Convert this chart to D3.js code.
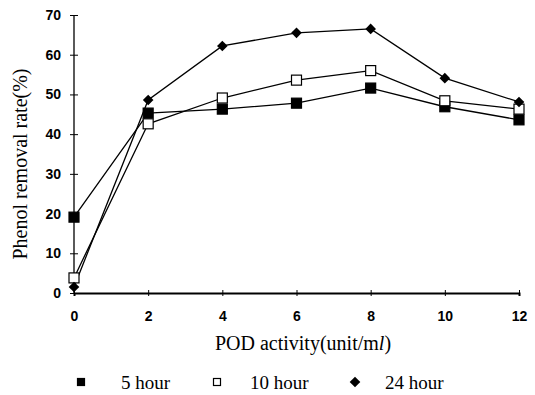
<!DOCTYPE html>
<html>
<head>
<meta charset="utf-8">
<script src="https://cdn.jsdelivr.net/npm/d3@7"></script>
<style>
  body { margin: 0; background: #fff; }
  .tick text { font-family: "Liberation Sans", Arial, sans-serif; font-weight: bold; font-size: 14px; }
</style>
</head>
<body>
<svg id="chart" width="535" height="395"></svg>
<script>
// POD activity (unit/ml)
const activity = [0, 2, 4, 6, 8, 10, 12];
const hour5 = [19.1, 45.3, 46.3, 47.8, 51.6, 46.9, 43.6];
const hour10 = [3.8, 42.6, 49.1, 53.6, 56.0, 48.4, 46.3];
const hour24 = [1.5, 48.6, 62.2, 65.5, 66.5, 54.1, 48.1];
const seriesNames = ['5 hour', '10 hour', '24 hour'];
const yTicks = [0, 10, 20, 30, 40, 50, 60, 70];

const svg = d3.select('#chart');
const margin = {left: 74, right: 16, top: 15, bottom: 102};
const width = 535, height = 395;
const serif = '"Liberation Serif", "Times New Roman", serif';

const x = d3.scaleLinear().domain([0, 12]).range([margin.left, width - margin.right]);
const y = d3.scaleLinear().domain([0, 70]).range([height - margin.bottom, margin.top]);

// axes
const xAxis = svg.append('g')
    .attr('transform', 'translate(0,' + y(0) + ')')
    .call(d3.axisBottom(x).tickValues(activity).tickSize(3).tickPadding(15).tickFormat(d3.format('d')));
xAxis.select('.domain').attr('stroke-width', 2);
// tick marks cross the axis
xAxis.selectAll('.tick line').attr('y1', -3).attr('y2', 3);

const yAxis = svg.append('g')
    .attr('transform', 'translate(' + margin.left + ',0)')
    .call(d3.axisLeft(y).tickValues(yTicks).tickSize(3).tickPadding(10));
yAxis.select('.domain').attr('stroke-width', 1.3).attr('d', 'M0,' + y(0) + 'V' + y(70));
yAxis.selectAll('.tick line').attr('x1', -4).attr('x2', 4);

// lines
const series = [
    {name: seriesNames[0], values: hour5, shape: 'filled'},
    {name: seriesNames[1], values: hour10, shape: 'open'},
    {name: seriesNames[2], values: hour24, shape: 'diamond'}
];

const line = d3.line()
    .x(function(d, i) { return x(activity[i]); })
    .y(function(d) { return y(d); });

svg.append('g')
    .selectAll('path')
    .data(series)
    .enter().append('path')
    .attr('d', function(d) { return line(d.values); })
    .attr('fill', 'none')
    .attr('stroke', '#000')
    .attr('stroke-width', 1.3);

function drawMarker(g, shape, cx, cy, r) {
    if (shape === 'diamond') {
        g.append('rect')
            .attr('x', -r * 0.75).attr('y', -r * 0.75)
            .attr('width', r * 1.5).attr('height', r * 1.5)
            .attr('transform', 'translate(' + cx + ',' + cy + ') rotate(45)')
            .attr('fill', '#000');
    } else {
        g.append('rect')
            .attr('x', cx - r).attr('y', cy - r)
            .attr('width', 2 * r).attr('height', 2 * r)
            .attr('fill', shape === 'open' ? '#fff' : '#000')
            .attr('stroke', '#000')
            .attr('stroke-width', 1.2);
    }
}

const marks = svg.append('g');
series.forEach(function(s) {
    s.values.forEach(function(v, i) {
        drawMarker(marks, s.shape, x(activity[i]), y(v), 5);
    });
});

// axis titles
const xTitle = svg.append('text')
    .attr('x', 303)
    .attr('y', 350)
    .attr('text-anchor', 'middle')
    .style('font-family', serif)
    .style('font-size', '20px');
xTitle.append('tspan').text('POD activity(unit/m');
xTitle.append('tspan').style('font-style', 'italic').text('l');
xTitle.append('tspan').text(')');

svg.append('text')
    .attr('transform', 'translate(27,164) rotate(-90)')
    .attr('text-anchor', 'middle')
    .style('font-family', serif)
    .style('font-size', '20px')
    .text('Phenol removal rate(%)');

// legend
const legendX = [81, 217, 355];
const legendTextX = [121, 250, 385];
const legend = svg.append('g');
series.forEach(function(s, i) {
    drawMarker(legend, s.shape, legendX[i], 382, s.shape === 'diamond' ? 5 : 3.5);
    legend.append('text')
        .attr('x', legendTextX[i])
        .attr('y', 389)
        .style('font-family', serif)
        .style('font-size', '19px')
        .text(s.name);
});
</script>
</body>
</html>
